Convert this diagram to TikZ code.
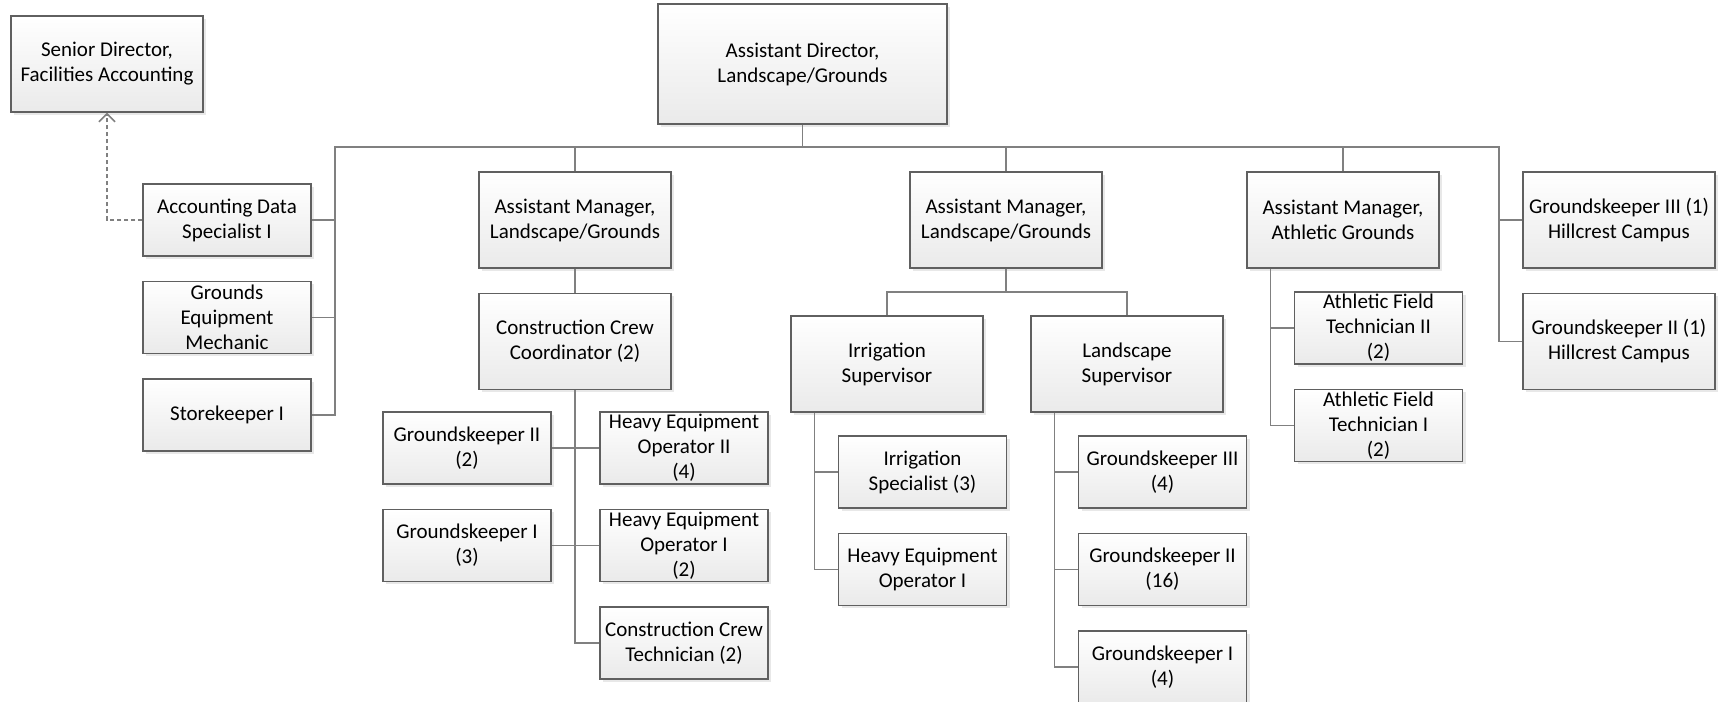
\documentclass[tikz,border=0pt]{standalone}
\usepackage{fontspec}
\setmainfont{Carlito}
\usetikzlibrary{positioning}
\usetikzlibrary{shadows}
\usetikzlibrary{arrows.meta}
\definecolor{boxedge}{RGB}{96,96,96}
\definecolor{boxbottom}{RGB}{234,234,234}
\definecolor{linegray}{RGB}{128,128,128}
\begin{document}
\begin{tikzpicture}
    [x=0.5pt, y=-0.5pt, node distance=12pt,
      every node/.style={font=\fontsize{10.5}{12.5}\selectfont, align=center},
      box/.style={draw=boxedge, line width=0.7pt, top color=white, bottom color=boxbottom,
        drop shadow={shadow xshift=1.5pt, shadow yshift=-1.5pt, fill=black!9, opacity=1},
        inner sep=0pt},
      big/.style={box, minimum width=96pt, minimum height=48pt},
      small/.style={box, minimum width=84pt, minimum height=36pt},
      wire/.style={draw=linegray, line width=0.75pt},
     ]
    \useasboundingbox (0,0) rectangle (1726,702);
    \node[box, minimum width=144.5pt, minimum height=60pt] (adir) at (802.5,64) {Assistant Director,\\Landscape/Grounds};
    \node[big] (sdir) at (107,64) {Senior Director,\\Facilities Accounting};
    % staff on the left
    \node[small] (acct) at (227,220) {Accounting Data\\Specialist I};
    \node[small, below=of acct] (mech) {Grounds\\Equipment\\Mechanic};
    \node[small, below=of mech] (store) {Storekeeper I};
    % managers
    \node[big] (amgr1) at (575,220) {Assistant Manager,\\Landscape/Grounds};
    \node[big] (amgr2) at (1006,220) {Assistant Manager,\\Landscape/Grounds};
    \node[big] (amgr3) at (1343,220) {Assistant Manager,\\Athletic Grounds};
    \node[big] (hill3) at (1619,220) {Groundskeeper III (1)\\Hillcrest Campus};
    \node[big, below=of hill3] (hill2) {Groundskeeper II (1)\\Hillcrest Campus};
    % construction crew
    \node[big, below=of amgr1] (ccc) {Construction Crew\\Coordinator (2)};
    \node[small] (gk2c) at (467,448) {Groundskeeper II\\(2)};
    \node[small, below=of gk2c] (gk1c) {Groundskeeper I\\(3)};
    \node[small] (heo2c) at (684,448) {Heavy Equipment\\Operator II\\(4)};
    \node[small, below=of heo2c] (heo1c) {Heavy Equipment\\Operator I\\(2)};
    \node[small, below=of heo1c] (cct) {Construction Crew\\Technician (2)};
    % irrigation and landscape
    \node[big] (irr) at (887,364) {Irrigation\\Supervisor};
    \node[big] (land) at (1127,364) {Landscape\\Supervisor};
    \node[small] (irrs) at (922.5,472) {Irrigation\\Specialist (3)};
    \node[small, below=of irrs] (heo1i) {Heavy Equipment\\Operator I};
    \node[small] (gk3l) at (1162.5,472) {Groundskeeper III\\(4)};
    \node[small, below=of gk3l] (gk2l) {Groundskeeper II\\(16)};
    \node[small, below=of gk2l] (gk1l) {Groundskeeper I\\(4)};
    % athletic grounds
    \node[small] (aft2) at (1378.5,328) {Athletic Field\\Technician II\\(2)};
    \node[small, below=of aft2] (aft1) {Athletic Field\\Technician I\\(2)};

    \coordinate (bl) at (335,147);
    \coordinate (br) at (1499,147);
    \coordinate (mb) at (1006,292);
    \coordinate (irrsp) at ([xshift=12pt]irr.south west);
    \coordinate (landsp) at ([xshift=12pt]land.south west);
    \coordinate (athsp) at ([xshift=12pt]amgr3.south west);

    \draw[wire] (adir.south) -- (adir.south |- bl);
    \draw[wire] (store.east) -| (bl) -- (br) |- (hill2.west);
    \draw[wire] (acct.east) -- (acct.east -| bl);
    \draw[wire] (mech.east) -- (mech.east -| bl);
    \draw[wire] (hill3.west) -- (hill3.west -| br);
    \draw[wire] (amgr1.north) -- (amgr1.north |- bl);
    \draw[wire] (amgr2.north) -- (amgr2.north |- bl);
    \draw[wire] (amgr3.north) -- (amgr3.north |- bl);

    \draw[wire] (amgr1.south) -- (ccc.north);
    \draw[wire] (ccc.south) |- (cct.west);
    \draw[wire] (gk2c.east) -- (heo2c.west);
    \draw[wire] (gk1c.east) -- (heo1c.west);

    \draw[wire] (amgr2.south) -- (mb);
    \draw[wire] (irr.north) |- (mb) -| (land.north);
    \draw[wire] (irrsp) |- (heo1i.west);
    \draw[wire] (irrs.west) -- (irrs.west -| irrsp);
    \draw[wire] (landsp) |- (gk1l.west);
    \draw[wire] (gk3l.west) -- (gk3l.west -| landsp);
    \draw[wire] (gk2l.west) -- (gk2l.west -| landsp);
    \draw[wire] (athsp) |- (aft1.west);
    \draw[wire] (aft2.west) -- (aft2.west -| athsp);

    \draw[wire, dash pattern=on 2pt off 1.5pt, -{Straight Barb[length=4pt,width=8pt]}] (acct.west) -| (sdir.south);
    \end{tikzpicture}
\end{document}
